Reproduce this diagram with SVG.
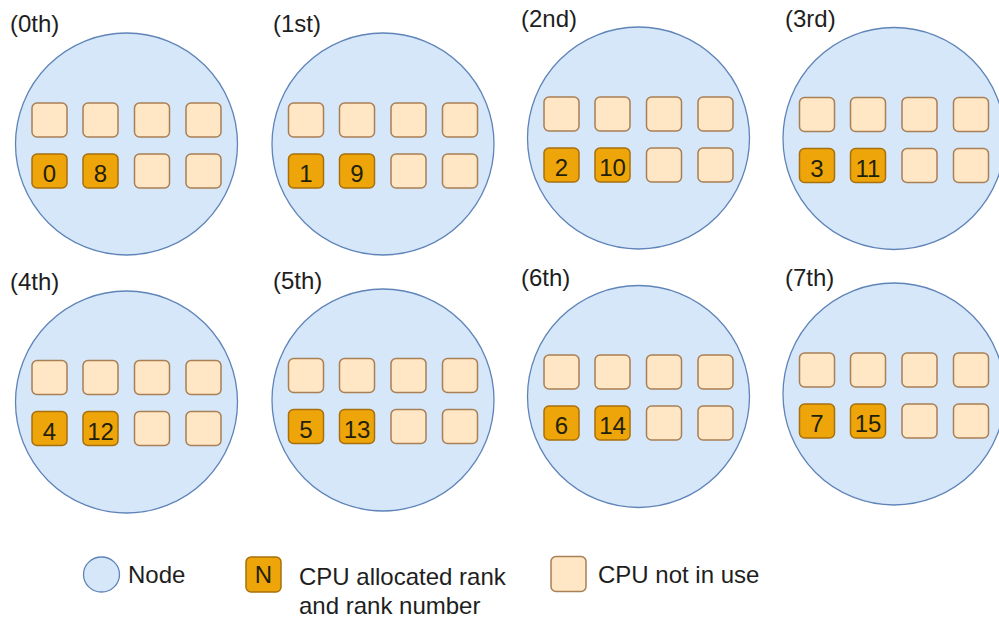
<svg xmlns="http://www.w3.org/2000/svg" width="999" height="623" viewBox="0 0 999 623">
<style>
.node{fill:#d6e7fa;stroke:#5f84b8;stroke-width:1.3}
.free{fill:#ffe6c4;stroke:#a97f55;stroke-width:1.5}
.used{fill:#eea50a;stroke:#a8700c;stroke-width:1.5}
.lbl{font-family:"Liberation Sans",Arial,sans-serif;font-size:24px;fill:#1e1e1e}
.num{font-family:"Liberation Sans",Arial,sans-serif;font-size:24px;fill:#1f2208;text-anchor:middle}
</style>
<defs>
<rect id="f" class="free" width="35" height="34" rx="5"/>
<rect id="u" class="used" width="35" height="34" rx="5"/>
<g id="cpus">
<use href="#f" x="-94.5" y="-41"/><use href="#f" x="-43.5" y="-41"/><use href="#f" x="8" y="-41"/><use href="#f" x="59.5" y="-41"/>
<use href="#u" x="-94.5" y="10"/><use href="#u" x="-43.5" y="10"/><use href="#f" x="8" y="10"/><use href="#f" x="59.5" y="10"/>
</g>
</defs>
<rect width="999" height="623" fill="#ffffff"/>

<g id="node0">
<text class="lbl" x="10" y="32">(0th)</text>
<circle class="node" cx="126.5" cy="144" r="111"/>
<use href="#cpus" transform="translate(126.5,144)"/>
<text class="num" x="49.5" y="182">0</text><text class="num" x="100.5" y="182">8</text>
</g>
<g id="node1">
<text class="lbl" x="273" y="32">(1st)</text>
<circle class="node" cx="383" cy="144" r="111"/>
<use href="#cpus" transform="translate(383,144)"/>
<text class="num" x="306" y="182">1</text><text class="num" x="357" y="182">9</text>
</g>
<g id="node2">
<text class="lbl" x="521" y="27">(2nd)</text>
<circle class="node" cx="638.5" cy="138" r="111"/>
<use href="#cpus" transform="translate(638.5,138)"/>
<text class="num" x="561.5" y="176">2</text><text class="num" x="612.5" y="176">10</text>
</g>
<g id="node3">
<text class="lbl" x="785" y="27">(3rd)</text>
<circle class="node" cx="894" cy="138.5" r="111"/>
<use href="#cpus" transform="translate(894,138.5)"/>
<text class="num" x="817" y="176.5">3</text><text class="num" x="868" y="176.5">11</text>
</g>
<g id="node4">
<text class="lbl" x="10" y="290">(4th)</text>
<circle class="node" cx="126.5" cy="402" r="111"/>
<use href="#cpus" transform="translate(126.5,401.5)"/>
<text class="num" x="49.5" y="439.5">4</text><text class="num" x="100.5" y="439.5">12</text>
</g>
<g id="node5">
<text class="lbl" x="273" y="289">(5th)</text>
<circle class="node" cx="383" cy="400" r="111"/>
<use href="#cpus" transform="translate(383,399.5)"/>
<text class="num" x="306" y="437.5">5</text><text class="num" x="357" y="437.5">13</text>
</g>
<g id="node6">
<text class="lbl" x="521" y="286">(6th)</text>
<circle class="node" cx="638.5" cy="396.5" r="111"/>
<use href="#cpus" transform="translate(638.5,396)"/>
<text class="num" x="561.5" y="434">6</text><text class="num" x="612.5" y="434">14</text>
</g>
<g id="node7">
<text class="lbl" x="785" y="286">(7th)</text>
<circle class="node" cx="894" cy="394" r="111"/>
<use href="#cpus" transform="translate(894,394)"/>
<text class="num" x="817" y="432">7</text><text class="num" x="868" y="432">15</text>
</g>

<g id="legend">
<ellipse class="node" cx="101.5" cy="574.5" rx="18" ry="17.5"/>
<text class="lbl" x="128" y="583">Node</text>
<rect class="used" x="246" y="557" width="35" height="35" rx="5"/>
<text class="num" x="263.5" y="583" font-size="20">N</text>
<text class="lbl" x="299" y="585">CPU allocated rank</text>
<text class="lbl" x="299" y="614">and rank number</text>
<rect class="free" x="551" y="556.5" width="35" height="35" rx="5"/>
<text class="lbl" x="598" y="583">CPU not in use</text>
</g>
</svg>
